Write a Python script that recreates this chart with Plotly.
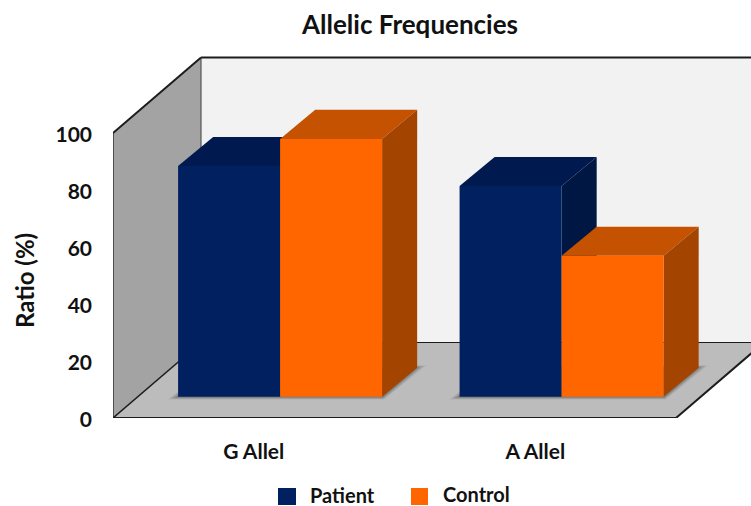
import plotly.graph_objects as go

# Chart content
TITLE = "Allelic Frequencies"
Y_TITLE = "Ratio (%)"
CATEGORIES = ["G Allel", "A Allel"]
PATIENT = [81, 74]
CONTROL = [90.5, 49.5]
Y_TICKS = [0, 20, 40, 60, 80, 100]

NAVY = ("#002060", "#001a4f", "#001643")
ORANGE = ("#ff6600", "#c55200", "#a34400")
FONT = "Lato, 'Open Sans', sans-serif"

# Canvas geometry
WIDTH, HEIGHT = 751, 506
LEFT, BOTTOM = 113, 88
PX_PER_CAT = 281.5
PX_PER_UNIT = 2.85

# Oblique projection: one full step into the chart, in data units
DEPTH_X = 88 / PX_PER_CAT
DEPTH_Y = 75.5 / PX_PER_UNIT
BAR_FRONT = 0.28
BAR_BACK = 0.665
BAR_WIDTH = 102 / PX_PER_CAT
BAR_NUDGE = 1.7 / PX_PER_CAT
BAR_DEPTH_NUDGE = 1.2 / PX_PER_CAT

X_MIN = -0.5
X_MAX = X_MIN + (WIDTH - LEFT) / PX_PER_CAT
X_END = 1.5
Y_MAX = (HEIGHT - BOTTOM) / PX_PER_UNIT
WALL_TOP = 100


def project(x, y, z):
    return x + z * DEPTH_X, y + z * DEPTH_Y


def poly(points, fill, line_color=None, line_width=0, opacity=1.0):
    path = "M" + " L".join(f"{px:.4f},{py:.4f}" for px, py in points) + " Z"
    return dict(
        type="path", path=path, xref="x", yref="y", layer="below",
        fillcolor=fill, opacity=opacity,
        line=dict(color=line_color or fill, width=line_width),
    )


def segment(a, b, color="#1c1c1c", width=1.5):
    return dict(
        type="line", xref="x", yref="y", layer="below",
        x0=a[0], y0=a[1], x1=b[0], y1=b[1],
        line=dict(color=color, width=width),
    )


def paper_x(px):
    return (px - LEFT) / (WIDTH - LEFT)


def paper_y(py):
    return (HEIGHT - BOTTOM - py) / (HEIGHT - BOTTOM)


shapes = []

# Back wall, floor and side wall
shapes.append(poly([project(X_MIN, 0, 1), project(X_MAX + 1, 0, 1),
                    project(X_MAX + 1, WALL_TOP, 1), project(X_MIN, WALL_TOP, 1)], "#f2f2f2"))
shapes.append(poly([project(X_MIN, 0, 0), project(X_END, 0, 0),
                    project(X_END, 0, 1), project(X_MIN, 0, 1)], "#bcbcbc"))
shapes.append(poly([project(X_MIN, 0, 0), project(X_MIN, WALL_TOP, 0),
                    project(X_MIN, WALL_TOP, 1), project(X_MIN, 0, 1)], "#a3a3a3"))

# Frame of the box
shapes.append(segment(project(X_MIN, 0, 1), project(X_MAX + 1, 0, 1), width=1.2))
shapes.append(segment(project(X_MIN, WALL_TOP, 1), project(X_MAX + 1, WALL_TOP, 1), width=2))
shapes.append(segment(project(X_MIN, 0, 1), project(X_MIN, WALL_TOP, 1), color="#555555", width=1.2))
shapes.append(segment(project(X_MIN, 0, 0), project(X_MIN, WALL_TOP, 0), color="#333333", width=1.5))
shapes.append(segment(project(X_MIN, WALL_TOP, 0), project(X_MIN, WALL_TOP, 1), width=2))
shapes.append(segment(project(X_MIN, 0, 0), project(X_MIN, 0, 1), width=1.5))
shapes.append(segment(project(X_MIN, 0, 0), project(X_END, 0, 0), width=2))
shapes.append(segment(project(X_END, 0, 0), project(X_END, 0, 1), width=2))

# Soft contact shadow under each pair of bars
for i in range(len(CATEGORIES)):
    x0, x1 = i + BAR_NUDGE - BAR_WIDTH, i + BAR_NUDGE + BAR_WIDTH
    for grow, alpha in ((0.036, 0.10), (0.027, 0.13), (0.018, 0.16), (0.009, 0.2)):
        rise = grow * PX_PER_CAT / PX_PER_UNIT
        shapes.append(poly([
            project(x0 - grow, -rise * 0.25, BAR_FRONT),
            project(x1 + grow * 0.2, -rise * 0.25, BAR_FRONT),
            project(x1 + grow, rise * 0.25, BAR_BACK),
            project(x0, rise * 0.25, BAR_BACK),
        ], "#3a3a3a", opacity=alpha))


def bar_back(x, y):
    bx, by = project(x, y, BAR_BACK)
    return bx + BAR_DEPTH_NUDGE, by


def bar_faces(x0, x1, value, colors):
    """Top and side faces of one bar; its front face is the bar trace."""
    _, top, side = colors
    return [
        poly([project(x0, value, BAR_FRONT), project(x1, value, BAR_FRONT),
              bar_back(x1, value), bar_back(x0, value)], top),
        poly([project(x1, 0, BAR_FRONT), project(x1, value, BAR_FRONT),
              bar_back(x1, value), bar_back(x1, 0)], side),
    ]


for i in range(len(CATEGORIES)):
    mid = i + BAR_NUDGE
    shapes += bar_faces(mid - BAR_WIDTH, mid, PATIENT[i], NAVY)
    shapes += bar_faces(mid, mid + BAR_WIDTH, CONTROL[i], ORANGE)

# Legend swatches
shapes.append(dict(type="rect", xref="paper", yref="paper", x0=paper_x(278), x1=paper_x(296),
                   y0=paper_y(505), y1=paper_y(488), fillcolor=NAVY[0], line_width=0))
shapes.append(dict(type="rect", xref="paper", yref="paper", x0=paper_x(411), x1=paper_x(428),
                   y0=paper_y(505), y1=paper_y(488), fillcolor=ORANGE[0], line_width=0))

shift_x, shift_y = project(BAR_NUDGE, 0, BAR_FRONT)
cats = list(range(len(CATEGORIES)))

fig = go.Figure()
fig.add_bar(
    name="Patient", x=[c + shift_x for c in cats], y=PATIENT, base=shift_y,
    width=BAR_WIDTH, offset=-BAR_WIDTH, marker=dict(color=NAVY[0], line_width=0), showlegend=False,
)
fig.add_bar(
    name="Control", x=[c + shift_x for c in cats], y=CONTROL, base=shift_y,
    width=BAR_WIDTH, offset=0, marker=dict(color=ORANGE[0], line_width=0), showlegend=False,
)


def label(text, px, py, size, angle=0):
    return dict(
        text=f"<b>{text}</b>", x=paper_x(px), y=paper_y(py), xref="paper", yref="paper",
        showarrow=False, textangle=angle, xanchor="center", yanchor="middle", borderpad=0,
        font=dict(family=FONT, size=size, color="#111111"),
    )


fig.update_layout(
    width=WIDTH, height=HEIGHT,
    margin=dict(l=LEFT, r=0, t=0, b=BOTTOM),
    paper_bgcolor="white", plot_bgcolor="white",
    barmode="overlay",
    shapes=shapes,
    annotations=[
        label(TITLE, 409, 24, 26),
        label(Y_TITLE, 24, 281, 24, angle=-90),
        label("Patient", 342, 495, 20),
        label("Control", 476, 494, 20),
    ],
    xaxis=dict(
        range=[X_MIN, X_MAX], tickmode="array", tickvals=cats, ticktext=[f"<b>{c}</b>" for c in CATEGORIES],
        showgrid=False, zeroline=False, showline=False, ticks="",
        ticklabelstandoff=19, tickfont=dict(family=FONT, size=21, color="#111111"),
    ),
    yaxis=dict(
        range=[0, Y_MAX], tickmode="array", tickvals=Y_TICKS, ticktext=[f"<b>{t}</b>" for t in Y_TICKS],
        showgrid=False, zeroline=False, showline=False, ticks="",
        ticklabelstandoff=20, ticklabelshift=2, tickfont=dict(family=FONT, size=21, color="#111111"),
    ),
)

fig.write_html("out.html")
